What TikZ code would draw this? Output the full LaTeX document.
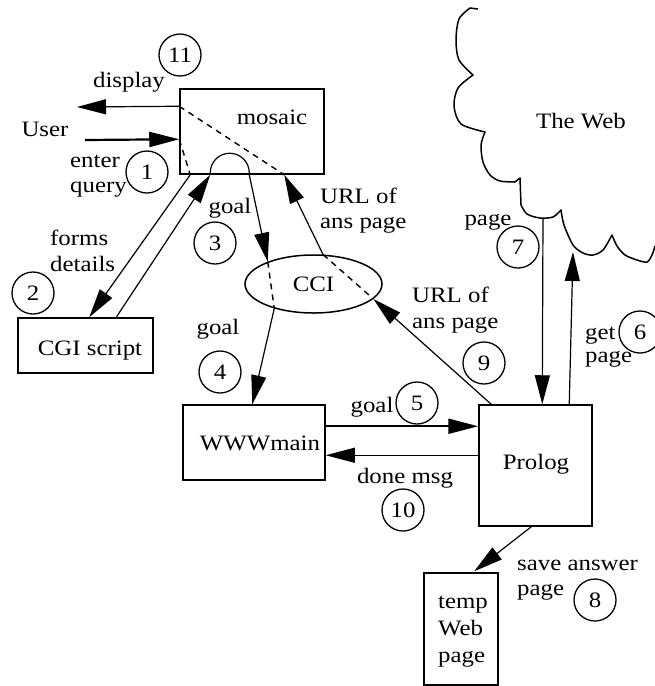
\documentclass[tikz,border=0pt]{standalone}
\usepackage{fontspec}
\setmainfont[FakeStretch=1.13]{Liberation Serif}
\usetikzlibrary{arrows.meta,shapes.geometric,calc}
\begin{document}
\begin{tikzpicture}[x=1pt,y=-1pt,
  every node/.style={font=\fontsize{22}{25}\selectfont, inner sep=0pt},
  txt/.style={anchor=base},
  txtl/.style={anchor=base west},
  box/.style={draw, line width=1.5pt, rectangle, inner sep=0pt},
  num/.style={draw, circle, line width=1.3pt, minimum size=42pt, inner sep=0pt},
  link/.style={line width=1.2pt},
  flow/.style={line width=1.2pt, -{Triangle[length=29pt,width=15pt]}},
  heavy/.style={line width=2.2pt, -{Triangle[length=30pt,width=15pt]}},
  through/.style={line width=1.4pt, dash pattern=on 6pt off 5pt},
]
\useasboundingbox (0,0) rectangle (654,686);

% ---- boxes ----
\node[box, minimum width=144pt, minimum height=85pt] (mosaic) at (252,131.5) {};
\node[box, minimum width=135pt, minimum height=55pt] (cgi) at (85.5,345.5) {};
\node[box, minimum width=142pt, minimum height=75pt] (www) at (254,442.5) {};
\node[box, minimum width=113pt, minimum height=121pt] (prolog) at (535.5,465.5) {};
\node[box, minimum width=74pt, minimum height=112pt] (temp) at (461,629) {};
\node[draw, ellipse, line width=1.5pt, minimum width=137pt, minimum height=58pt] (cci) at (313.5,284) {CCI};

% ---- the Web cloud ----
\draw[line width=1.5pt, line join=round]
  (478,9) -- (470,8)
  -- plot[smooth] coordinates {(470,8) (459,19) (456,40) (459,60) (473,75)}
  -- plot[smooth] coordinates {(473,75) (458,88) (454,106) (461,124) (485,132)}
  -- plot[smooth] coordinates {(485,132) (481,145) (483,162) (490,175) (500,181) (515,182)}
  -- (520,178) -- (521,205)
  -- plot[smooth] coordinates {(521,205) (527,214) (540,218) (553,217) (561,210)}
  -- plot[smooth] coordinates {(561,210) (564,225) (573,245) (583,253) (593,255) (603,250) (612,235)}
  -- plot[smooth] coordinates {(612,235) (617,246) (625,255) (637,260) (647,262) (652,255) (655,246)};
\node[txt] (web) at (581,128) {The Web};
\coordinate (webOut) at (543,218);
\coordinate (webIn) at (573,252);

% ---- attachment points ----
\coordinate (dispOut) at ($(mosaic.north west)+(0,18)$);
\coordinate (dispEnd) at (77,107);
\coordinate (userStart) at (85,140);
\coordinate (qIn) at ($(mosaic.north west)+(0,51)$);
\coordinate (qOut) at ($(mosaic.south west)+(11,0)$);
\coordinate (archL) at ($(mosaic.south west)+(31,0)$);
\coordinate (archR) at ($(mosaic.south west)+(70,0)$);
\coordinate (urlIn) at ($(mosaic.south west)+(105,0)$);

% ---- connectors ----
\draw[flow] (dispOut) -- (dispEnd);
\draw[heavy] (userStart) -- (qIn);
\draw[through] (qIn) -- (qOut);
\draw[flow] (qOut) -- ($(cgi.north west)+(72,0)$);
\draw[flow] ($(cgi.north west)+(99,0)$) -- (archL);
\draw[link] (archL) -- ++(0,-2) arc[start angle=180, end angle=360, radius=19.5] -- (archR);
\draw[flow] (archR) -- (cci.154);
\draw[through] (cci.154) -- (cci.212);
\draw[flow] (cci.212) -- ($(www.north west)+(70,0)$);
\draw[flow] (cci.72) -- (urlIn);
\draw[through] (dispOut) -- (urlIn);
\draw[through] (cci.72) -- (cci.346);
\draw[flow] ($(prolog.north west)+(13,0)$) -- (cci.346);
\draw[heavy] ($(www.north east)+(0,22)$) -- ($(prolog.north west)+(0,22)$);
\draw[flow] ($(prolog.north west)+(0,51)$) -- ($(www.north east)+(0,51)$);
\draw[flow] ($(prolog.south west)+(53,0)$) -- ($(temp.north west)+(51,-1)$);
\draw[flow] (webOut) -- ($(prolog.north west)+(64,0)$);
\draw[flow] ($(prolog.north west)+(91,0)$) -- (webIn);

% ---- labels ----
\node[txt] (tDisplay) at (129,87) {display};
\node[txt] (tUser) at (45,136) {User};
\node[txt] (tMosaic) at (272,124) {mosaic};
\node[txtl] (tEnter) at (70,167) {enter};
\node[txtl] (tQuery) at (70,192) {query};
\node[txt] (tGoalA) at (230,213) {goal};
\node[txtl] (tUrlA1) at (320,203) {URL of};
\node[txtl] (tUrlA2) at (320,228) {ans page};
\node[txtl] (tForms) at (50,245) {forms};
\node[txtl] (tDetails) at (50,271) {details};
\node[txt] (tCgi) at (90,355) {CGI script};
\node[txt] (tGoalB) at (218,334) {goal};
\node[txt] (tWww) at (260,450) {WWWmain};
\node[txt] (tGoalC) at (372,412) {goal};
\node[txt] (tDone) at (405,483) {done msg};
\node[txt] (tProlog) at (536,469) {Prolog};
\node[txtl] (tTemp1) at (438,608) {temp};
\node[txtl] (tTemp2) at (438,635) {Web};
\node[txtl] (tTemp3) at (438,662) {page};
\node[txtl] (tSave) at (517,570) {save answer};
\node[txtl] (tSavePg) at (517,595) {page};
\node[txt] (tPage) at (488,225) {page};
\node[txtl] (tUrlB1) at (412,302) {URL of};
\node[txtl] (tUrlB2) at (412,328) {ans page};
\node[txtl] (tGet) at (585,339) {get};
\node[txtl] (tGetPg) at (585,362) {page};

% ---- step numbers ----
\node[num] (n1) at (147,172) {1};
\node[num] (n2) at (33,293) {2};
\node[num] (n3) at (215,243) {3};
\node[num] (n4) at (220,372) {4};
\node[num] (n5) at (417,403) {5};
\node[num] (n6) at (640,332) {6};
\node[num] (n7) at (518,247) {7};
\node[num] (n8) at (595,600) {8};
\node[num] (n9) at (484,363) {9};
\node[num] (n10) at (403,510) {10};
\node[num] (n11) at (180,55) {11};
\end{tikzpicture}
\end{document}
